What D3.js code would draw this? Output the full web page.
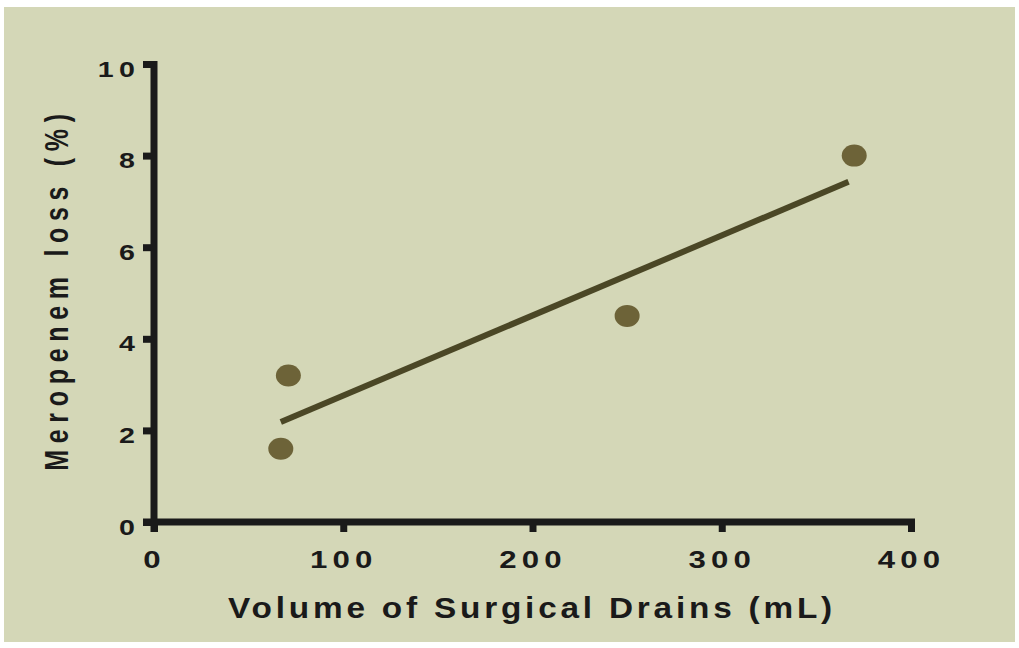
<!DOCTYPE html>
<html>
<head>
<meta charset="utf-8">
<script src="https://cdn.jsdelivr.net/npm/d3@7"></script>
<style>
  body { margin: 0; background: #ffffff; }
  text { font-family: "Liberation Sans", Arial, sans-serif; font-weight: bold; fill: #1a1a1a; }
</style>
</head>
<body>
<script>
// measured points
var drainVolume = [67, 71, 250, 370];
var meropenemLoss = [1.6, 3.2, 4.5, 8];
// fitted line drawn over the range of the data
var fitRange = [67, 367];
var xTicks = [0, 100, 200, 300, 400];
var yTicks = [0, 2, 4, 6, 8, 10];

var width = 1019, height = 648;
var stretch = 1.3; // the original text is stretched sideways

var svg = d3.select("body").append("svg")
    .attr("width", width)
    .attr("height", height);

svg.append("rect")
    .attr("x", 4).attr("y", 7)
    .attr("width", 1011).attr("height", 635)
    .attr("fill", "#d4d7b7");

var x = d3.scaleLinear().domain([0, 400]).range([154, 911]);
var y = d3.scaleLinear().domain([0, 10]).range([522, 64]);

//least squares fit
var mx = d3.mean(drainVolume), my = d3.mean(meropenemLoss);
var sxy = d3.sum(drainVolume, function(d, i){ return (d - mx) * (meropenemLoss[i] - my); });
var sxx = d3.sum(drainVolume, function(d){ return (d - mx) * (d - mx); });
var slope = sxy / sxx, intercept = my - slope * mx;

var xAxis = svg.append("g")
    .attr("transform", "translate(0,522)")
    .call(d3.axisBottom(x).tickValues(xTicks).tickSize(10).tickFormat(d3.format("d")));
var yAxis = svg.append("g")
    .attr("transform", "translate(154,0)")
    .call(d3.axisLeft(y).tickValues(yTicks).tickSize(11).tickFormat(d3.format("d")));

[xAxis, yAxis].forEach(function(g){
  g.select(".domain").remove();
  g.selectAll(".tick line").attr("stroke", "#1a1a1a").attr("stroke-width", 7);
  g.selectAll(".tick text").attr("fill", "#1a1a1a");
});
xAxis.selectAll(".tick text")
    .style("font-size", "24px")
    .style("letter-spacing", "4px")
    .attr("x", 0)
    .attr("y", 46).attr("dy", null)
    .attr("transform", "scale(" + stretch + ",1)");
yAxis.selectAll(".tick text")
    .style("font-size", "22px")
    .style("letter-spacing", "4px")
    .attr("x", -14 / stretch)
    .attr("dy", null).attr("y", 12)
    .attr("transform", "scale(" + stretch + ",1)");

// axis lines
svg.append("line")
    .attr("x1", x(0) - 11).attr("x2", x(400) + 4)
    .attr("y1", y(0)).attr("y2", y(0))
    .attr("stroke", "#1a1a1a").attr("stroke-width", 7);
svg.append("line")
    .attr("x1", x(0)).attr("x2", x(0))
    .attr("y1", y(10) - 3).attr("y2", y(0) + 10)
    .attr("stroke", "#1a1a1a").attr("stroke-width", 7);

svg.append("line")
    .attr("x1", x(fitRange[0])).attr("y1", y(slope * fitRange[0] + intercept))
    .attr("x2", x(fitRange[1])).attr("y2", y(slope * fitRange[1] + intercept))
    .attr("stroke", "#4b4726").attr("stroke-width", 6);

svg.selectAll(".pt")
    .data(drainVolume)
    .enter()
    .append("ellipse")
    .attr("class", "pt")
    .attr("cx", function(d){ return x(d); })
    .attr("cy", function(d, i){ return y(meropenemLoss[i]); })
    .attr("rx", 12.5).attr("ry", 11)
    .attr("fill", "#6d6338");

svg.append("text")
    .attr("transform", "translate(532,618) scale(1.15,1)")
    .attr("text-anchor", "middle")
    .style("font-size", "29px")
    .style("letter-spacing", "3.3px")
    .text("Volume of Surgical Drains (mL)");

svg.append("text")
    .attr("transform", "translate(68,289) rotate(-90) scale(1," + stretch + ")")
    .attr("text-anchor", "middle")
    .style("font-size", "25px")
    .style("letter-spacing", "6.7px")
    .text("Meropenem loss (%)");
</script>
</body>
</html>
